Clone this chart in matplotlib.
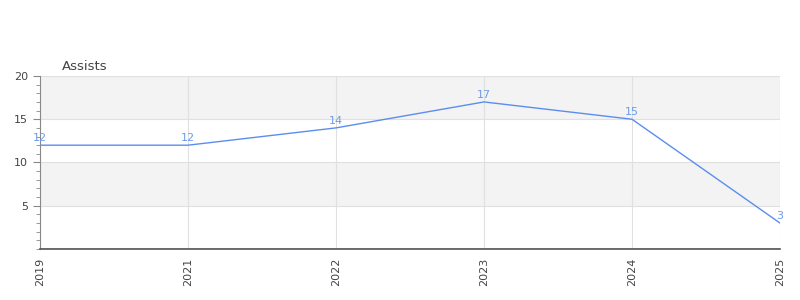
import matplotlib
matplotlib.use("Agg")
import matplotlib.pyplot as plt
from matplotlib.ticker import MultipleLocator

# Data
years = ["2019", "2021", "2022", "2023", "2024", "2025"]
assists = [12, 12, 14, 17, 15, 3]

line_color = "#5b8def"
label_color = "#6f9be8"

fig = plt.figure(figsize=(8, 3), dpi=100)
ax = fig.add_axes([0.05, 0.17, 0.925, 0.5767])

x = list(range(len(years)))

# alternating bands
for lo, hi in [(5, 10), (15, 20)]:
    ax.axhspan(lo, hi, color="#f3f3f3", zorder=0, lw=0)

ax.plot(x, assists, color=line_color, lw=1, zorder=3)
for xi, v in zip(x, assists):
    ax.annotate(str(v), (xi, v), xytext=(0, 1.5), textcoords="offset points",
                ha="center", va="bottom", fontsize=8, color=label_color, zorder=4)

ax.axhline(0, color="#d62020", lw=1, zorder=2)

ax.set_xlim(0, len(years) - 1)
ax.set_ylim(0, 20)
ax.set_xticks(x)
ax.set_xticklabels(years, rotation=90, fontsize=8, color="#444444")
ax.set_yticks([5, 10, 15, 20])
ax.yaxis.set_minor_locator(MultipleLocator(1))
ax.tick_params(axis="y", labelsize=8, colors="#444444", length=5, color="#888888")
ax.tick_params(axis="y", which="minor", length=3, color="#888888")
ax.tick_params(axis="x", length=0, pad=6)

ax.grid(True, color="#e0e0e0", lw=0.8, zorder=1)
ax.set_axisbelow(True)

for s in ["top", "right"]:
    ax.spines[s].set_visible(False)
ax.spines["left"].set_color("#888888")
ax.spines["bottom"].set_color("#555555")
ax.spines["bottom"].set_linewidth(1.2)

fig.text(0.0775, 0.78, "Assists", fontsize=9.5, color="#444444", ha="left", va="center")

fig.savefig("out.png", dpi=100)
